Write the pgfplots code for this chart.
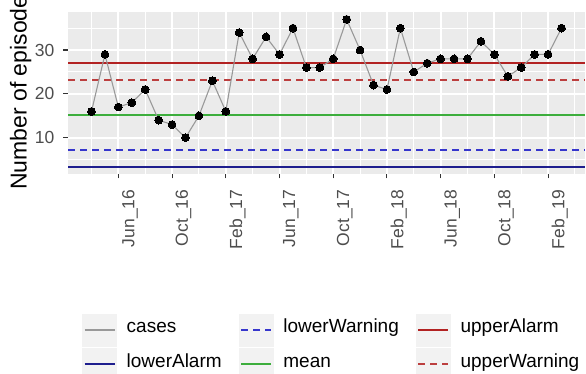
\documentclass[border=0pt]{standalone}
\usepackage{pgfplots}
\pgfplotsset{compat=1.18}
\usepackage{pgfplotstable}
\usepackage{fontspec}
\setmainfont{Liberation Sans}

\definecolor{panelbg}{HTML}{EBEBEB}
\definecolor{keybg}{HTML}{F2F2F2}
\definecolor{tickgray}{HTML}{4D4D4D}
\definecolor{tickline}{HTML}{333333}
\definecolor{casegray}{HTML}{999999}
\definecolor{uaRed}{HTML}{B22222}
\definecolor{uwRed}{HTML}{BC3F3F}
\definecolor{meanGreen}{HTML}{3DAE3D}
\definecolor{lwBlue}{rgb}{0.21,0.21,0.80}
\definecolor{laBlue}{HTML}{1E1E8E}

% monthly episode counts, Apr 2016 (idx 0) to Mar 2019 (idx 35)
\pgfplotstableread{
idx cases
0 16
1 29
2 17
3 18
4 21
5 14
6 13
7 10
8 15
9 23
10 16
11 34
12 28
13 33
14 29
15 35
16 26
17 26
18 28
19 37
20 30
21 22
22 21
23 35
24 25
25 27
26 28
27 28
28 28
29 32
30 29
31 24
32 26
33 29
34 29
35 35
}\casedata

% control limits, drawn across the whole panel
\pgfplotstableread{
x lalarm lwarn mean uwarn ualarm
-1.75 3.35 7.2 15.2 23.1 27.05
36.75 3.35 7.2 15.2 23.1 27.05
}\limitdata

\begin{document}
\begin{tikzpicture}
\path[use as bounding box] (-68pt,-200pt) rectangle (518pt,174pt);
\begin{scope}
\clip (-68pt,-200pt) rectangle (518pt,174pt);
\begin{axis}[
  scale only axis, width=517pt, height=162pt,
  at={(0pt,0pt)}, anchor=south west,
  xmin=-1.75, xmax=36.75, ymin=1.72, ymax=38.68,
  axis background/.style={fill=panelbg},
  axis line style={draw=none},
  xtick={2,6,...,34},
  xticklabels={Jun\_16,Oct\_16,Feb\_17,Jun\_17,Oct\_17,Feb\_18,Jun\_18,Oct\_18,Feb\_19},
  minor xtick={0,4,...,36},
  ytick={10,20,30},
  minor ytick={5,15,25,35},
  grid=both,
  major grid style={white, line width=2pt},
  minor grid style={white, line width=1pt},
  tick align=outside, tick pos=left,
  major tick length=4.5pt, minor tick length=0pt,
  major tick style={tickline, line width=1.1pt},
  ticklabel style={font=\fontsize{17.5}{21}\selectfont, text=tickgray},
  /pgf/number format/assume math mode=true,
  xticklabel style={rotate=90, anchor=north east, inner xsep=0pt, inner ysep=3.5pt},
  xticklabel shift=11pt,
  yticklabel style={anchor=east, inner sep=0pt},
  yticklabel shift=9pt,
  legend columns=3,
  legend cell align=left,
  legend style={
    at={(0.02708,-0.8611)}, anchor=north west,
    draw=none, fill=none, inner sep=0pt, outer sep=0pt,
    row sep=1.3pt, column sep=9.7pt,
    /tikz/every even column/.append style={column sep=17pt},
    nodes={inner sep=0pt, text height=0.75em, text depth=0.2em,
           font=\fontsize{19}{23}\selectfont, text=black},
  },
  legend image code/.code={
    \fill[fill=keybg, draw=none, solid] (0pt,-16.5pt) rectangle (35pt,16.5pt);
    \draw (2.5pt,0pt) -- (32.5pt,0pt);
  },
]
% legend keys
\addlegendimage{casegray, line width=1.1pt}
\addlegendentry{cases}
\addlegendimage{lwBlue, line width=1.8pt, dash pattern=on 6.5pt off 5.5pt}
\addlegendentry{lowerWarning}
\addlegendimage{uaRed, line width=1.8pt}
\addlegendentry{upperAlarm}
\addlegendimage{laBlue, line width=1.8pt}
\addlegendentry{lowerAlarm}
\addlegendimage{meanGreen, line width=1.8pt}
\addlegendentry{mean}
\addlegendimage{uwRed, line width=1.8pt, dash pattern=on 6.5pt off 5.5pt}
\addlegendentry{upperWarning}
% limit lines
\addplot[color=laBlue, line width=1.8pt, forget plot] table[x=x, y=lalarm] {\limitdata};
\addplot[color=lwBlue, line width=2pt, dash pattern=on 6.5pt off 5.5pt, forget plot] table[x=x, y=lwarn] {\limitdata};
\addplot[color=meanGreen, line width=1.8pt, forget plot] table[x=x, y=mean] {\limitdata};
\addplot[color=uwRed, line width=1.8pt, dash pattern=on 6.5pt off 5.5pt, forget plot] table[x=x, y=uwarn] {\limitdata};
\addplot[color=uaRed, line width=1.8pt, forget plot] table[x=x, y=ualarm] {\limitdata};
% monthly counts, drawn above the limit lines
\addplot[casegray, line width=1.1pt, mark=*, mark size=3.9pt,
  mark options={black, fill=black, solid, line width=0pt}, forget plot]
  table[x=idx, y=cases] {\casedata};
\end{axis}
\node[rotate=90, anchor=base west, font=\fontsize{23}{27}\selectfont] at (-41.5pt,-19.4pt) {Number of episodes};
\end{scope}
\end{tikzpicture}
\end{document}
